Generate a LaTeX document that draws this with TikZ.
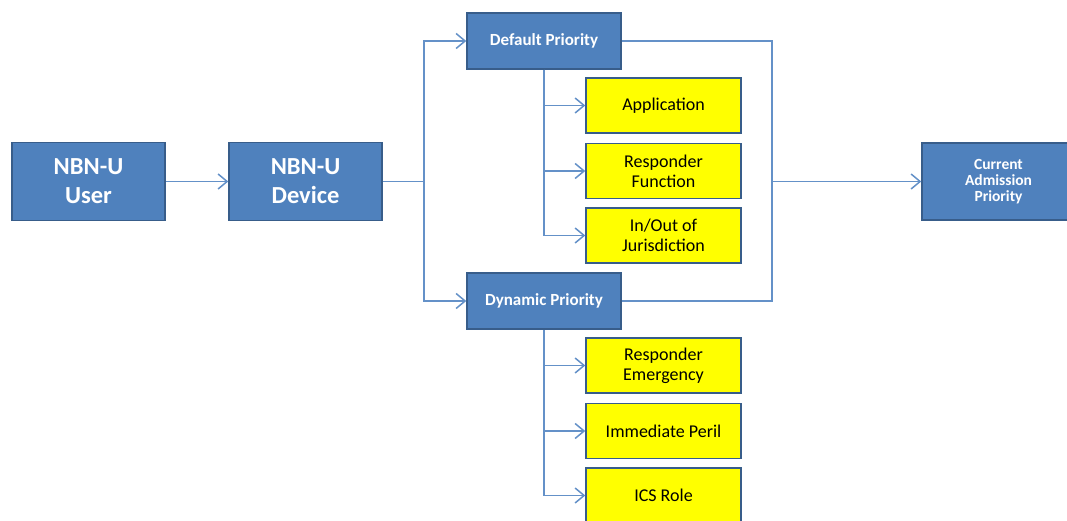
\documentclass[tikz,border=0pt]{standalone}
\usepackage{fontspec}
\setmainfont{Carlito}
\usetikzlibrary{arrows.meta}
\definecolor{boxblue}{RGB}{79,129,189}
\definecolor{boxedge}{RGB}{56,93,138}
\definecolor{lineblue}{RGB}{100,145,200}
\definecolor{yel}{RGB}{255,255,0}
\tikzset{
  bluebox/.style={draw=boxedge, line width=1.5pt, fill=boxblue, text=white, font=\bfseries, align=center, inner sep=0pt},
  bigbox/.style={bluebox, minimum width=153pt, minimum height=78pt, font=\fontsize{24.5}{29}\selectfont\bfseries},
  midbox/.style={bluebox, minimum width=154pt, minimum height=56pt, font=\fontsize{17}{18}\selectfont\bfseries},
  yelbox/.style={draw=boxedge, line width=1.5pt, fill=yel, text=black, align=center, inner sep=0pt, minimum width=155pt, minimum height=55pt, font=\fontsize{18}{20}\selectfont},
  conn/.style={draw=lineblue, line width=1.5pt},
  arr/.style={conn, -{Straight Barb[length=9pt,width=15pt,line width=1.5pt]}}
}
\begin{document}
\begin{tikzpicture}[x=1pt,y=-1pt]
\useasboundingbox (0,0) rectangle (1067,521);
\clip (0,0) rectangle (1067,521);
\fill[white] (0,0) rectangle (1067,521);
\node[bigbox] (user) at (88.5,181.5) {NBN-U\\User};
\node[bigbox] (device) at (305.5,181.5) {NBN-U\\Device};
\node[midbox] (default) at (544,41) {Default Priority};
\node[midbox] (dyn) at (544,301) {Dynamic Priority};
\node[yelbox] (app) at (663.5,105.5) {Application};
\node[yelbox] (rf) at (663.5,171) {Responder\\Function};
\node[yelbox] (io) at (663.5,235.5) {In/Out of\\Jurisdiction};
\node[yelbox] (re) at (663.5,365.5) {Responder\\Emergency};
\node[yelbox] (ip) at (663.5,431) {Immediate Peril};
\node[yelbox] (ics) at (663.5,495.5) {ICS Role};
\node[midbox, minimum width=153pt, minimum height=77pt, font=\fontsize{15.5}{16}\selectfont\bfseries] (cur) at (998.5,181.5) {Current\\Admission\\Priority};
\coordinate (j) at (424,181.5);
\coordinate (r1) at (772,41);
\coordinate (r2) at (772,301);
\coordinate (rm) at (772,181.5);
\draw[arr] (user) -- (device);
\draw[conn] (device.east) -- (j);
\draw[arr] (j) |- (default.west);
\draw[arr] (j) |- (dyn.west);
\draw[arr] (default.south) |- (app.west);
\draw[arr] (default.south) |- (rf.west);
\draw[arr] (default.south) |- (io.west);
\draw[arr] (dyn.south) |- (re.west);
\draw[arr] (dyn.south) |- (ip.west);
\draw[arr] (dyn.south) |- (ics.west);
\draw[conn] (default.east) -- (r1) -- (r2) -- (dyn.east);
\draw[arr] (rm) -- (cur.west);
\end{tikzpicture}
\end{document}
